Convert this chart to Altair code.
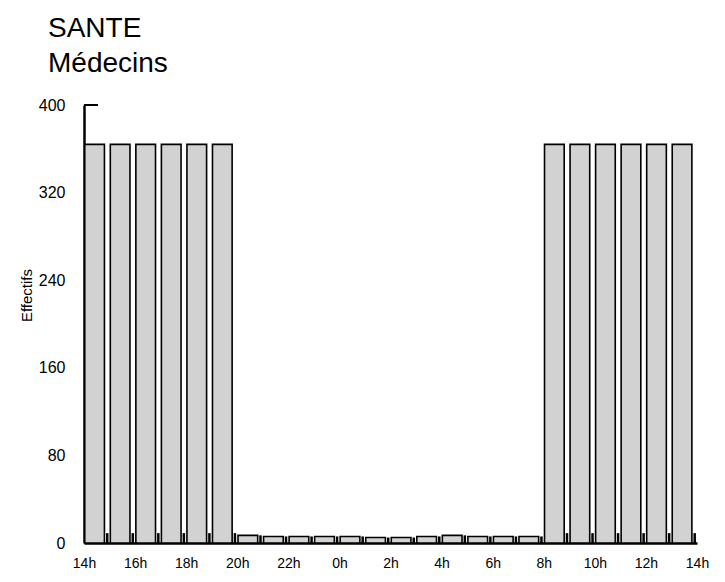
import altair as alt
import pandas as pd

hour_labels = ["14h", "15h", "16h", "17h", "18h", "19h", "20h", "21h", "22h", "23h", "0h", "1h",
               "2h", "3h", "4h", "5h", "6h", "7h", "8h", "9h", "10h", "11h", "12h", "13h"]
effectifs = [364, 364, 364, 364, 364, 364,
             7, 6, 6, 6, 6, 5, 5, 6, 7, 6, 6, 6,
             364, 364, 364, 364, 364, 364]

df = pd.DataFrame({
    "idx": list(range(24)),
    "heure": hour_labels,
    "effectif": effectifs,
})
df["start"] = df["idx"] + 0.03
df["end"] = df["idx"] + 0.80
df["gap"] = df["idx"] + 0.91
df["zero"] = 0
df["tickh"] = df["effectif"].clip(upper=9)

label_expr = "((14 + datum.value) % 24) + 'h'"

x_scale = alt.Scale(domain=[0, 24], nice=False, zero=False)
y_scale = alt.Scale(domain=[0, 400], nice=False)

bars = alt.Chart(df).mark_rect(
    fill="#d2d2d2", stroke="black", strokeWidth=1.6
).encode(
    x=alt.X("start:Q", scale=x_scale,
            axis=alt.Axis(values=list(range(0, 25, 2)), labelExpr=label_expr,
                          title=None, ticks=False, domain=True, domainWidth=2.5,
                          domainColor="black", grid=False, labelFontSize=14,
                          labelFont="Liberation Sans", labelColor="black",
                          labelPadding=13, labelFlush=False)),
    x2="end:Q",
    y=alt.Y("effectif:Q", scale=y_scale,
            axis=alt.Axis(values=[0, 80, 160, 240, 320, 400], title="Effectifs",
                          ticks=False, domain=True, domainWidth=2.5, domainColor="black",
                          grid=False, labelFontSize=16, labelFont="Liberation Sans",
                          labelColor="black", labelPadding=19, titleFontSize=15,
                          titleFont="Liberation Sans", titleFontWeight="normal",
                          titleColor="black", titleX=-50, titleY=190)),
    y2="zero:Q",
)

gaps = alt.Chart(df).mark_rule(color="black", strokeWidth=2.5).encode(
    x=alt.X("gap:Q", scale=x_scale),
    y=alt.Y("tickh:Q", scale=y_scale),
    y2="zero:Q",
)

top_tick = alt.Chart(pd.DataFrame({"v": [400]})).mark_rule(color="black", strokeWidth=2).encode(
    y=alt.Y("v:Q", scale=y_scale),
    x=alt.value(0),
    x2=alt.value(14),
)

chart = alt.layer(bars, gaps, top_tick).properties(
    width=613,
    height=438,
    padding={"left": 76, "top": 97, "right": 20, "bottom": 30},
    autosize=alt.AutoSizeParams(type="none"),
    title=alt.TitleParams(
        text=["SANTE", "Médecins"], anchor="start", frame="group", dx=-36,
        fontSize=28, fontWeight="normal", font="Liberation Sans", color="black",
        lineHeight=35, offset=19,
    ),
).configure_view(stroke=None)

chart.save("out.html", embed_options={"renderer": "svg", "actions": False})
